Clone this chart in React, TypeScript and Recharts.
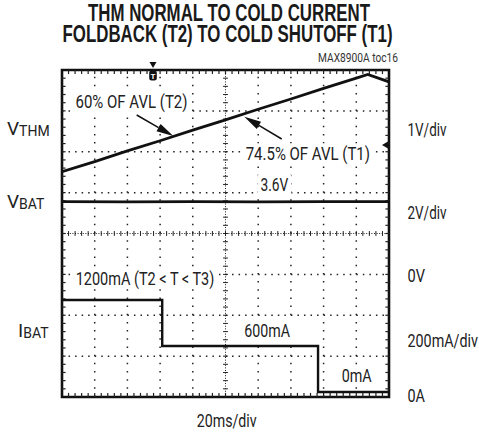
import React from "react";
import { LineChart, Line, XAxis, YAxis, ReferenceLine, ReferenceArea } from "recharts";

// scope shot: 20ms/div, 10 divisions across, 8 divisions tall
const timeMs = [0, 20, 40, 60, 80, 100, 120, 140, 160, 180, 187, 200];
const vthmVolts = [1.01, 1.26, 1.52, 1.77, 2.03, 2.28, 2.54, 2.79, 3.05, 3.3, 3.39, 3.21];

const vbatTimeMs = [0, 40, 80, 120, 160, 200];
const vbatVolts = [3.56, 3.55, 3.56, 3.55, 3.56, 3.56];

const ibatTimeMs = [0, 61.3, 156.6, 200];
const ibatMilliamps = [1200, 600, 0, 0];

const majorXMs = [20, 40, 60, 80, 120, 140, 160, 180];
const majorYDiv = [1, 2, 3, 5, 6, 7];
const minorXMs = Array.from({ length: 49 }, (_, i) => (i + 1) * 4);
const minorYDiv = Array.from({ length: 39 }, (_, i) => Math.round((i + 1) * 2) / 10);

const vthmData = timeMs.map((t, i) => ({ t, v: vthmVolts[i] }));
const vbatData = vbatTimeMs.map((t, i) => ({ t, v: vbatVolts[i] }));
const ibatData = ibatTimeMs.map((t, i) => ({ t, v: ibatMilliamps[i] }));

const LABEL_FONT = 'Roboto, "Liberation Sans", sans-serif';
const TITLE_FONT = '"Liberation Sans", Roboto, sans-serif';
const INK = "#111";
const DOT = "#222";

function Arrow({ x1, y1, x2, y2 }: { x1: number; y1: number; x2: number; y2: number }) {
  const len = Math.hypot(x2 - x1, y2 - y1);
  const ux = (x2 - x1) / len;
  const uy = (y2 - y1) / len;
  const hl = 17;
  const hw = 4.2;
  const bx = x2 - ux * hl;
  const by = y2 - uy * hl;
  const pts = `${x2},${y2} ${bx - uy * hw},${by + ux * hw} ${bx + uy * hw},${by - ux * hw}`;
  return (
    <g>
      <line x1={x1} y1={y1} x2={bx} y2={by} stroke={INK} strokeWidth={1.5} />
      <polygon points={pts} fill={INK} />
    </g>
  );
}

function Label({ x, y, w, text, bg }: { x: number; y: number; w: number; text: string; bg?: boolean }) {
  return (
    <g>
      {bg && <rect x={x - 3} y={y - 16} width={w + 6} height={20} fill="#fff" />}
      <text x={x} y={y} fontSize={19} textLength={w} lengthAdjust="spacingAndGlyphs" fill="#222">
        {text}
      </text>
    </g>
  );
}

export default function App() {
  return (
    <div style={{ position: "relative", width: 479, height: 434 }}>
      {/* the datasheet plot uses the full page, so drop the default body margin */}
      <style>{"body { margin: 0; }"}</style>
      <LineChart width={479} height={434} margin={{ top: 70, right: 90, bottom: 37, left: 62 }}>
        <XAxis dataKey="t" type="number" domain={[0, 200]} hide allowDataOverflow />
        <YAxis yAxisId="div" type="number" domain={[0, 8]} hide allowDataOverflow />
        <YAxis yAxisId="vthm" type="number" domain={[-4.5, 3.5]} hide allowDataOverflow />
        <YAxis yAxisId="vbat" type="number" domain={[-6, 10]} hide allowDataOverflow />
        <YAxis yAxisId="ibat" type="number" domain={[-65, 4200]} hide allowDataOverflow />

        {majorXMs.map((t) => (
          <ReferenceLine key={`gx${t}`} x={t} yAxisId="div" stroke={DOT} strokeWidth={1.5} strokeDasharray="1.5 6.675" />
        ))}
        {majorYDiv.map((d) => (
          <ReferenceLine key={`gy${d}`} y={d} yAxisId="div" stroke={DOT} strokeWidth={1.5} strokeDasharray="1.5 5.04" />
        ))}
        <ReferenceLine x={100} yAxisId="div" stroke={DOT} strokeWidth={1} strokeDasharray="1 1.6" />
        <ReferenceLine y={4} yAxisId="div" stroke={DOT} strokeWidth={1} strokeDasharray="1 1.6" />
        {minorXMs.map((t) => (
          <ReferenceLine key={`cx${t}`} yAxisId="div" segment={[{ x: t, y: 3.94 }, { x: t, y: 4.06 }]} stroke={DOT} strokeWidth={1} />
        ))}
        {minorYDiv.map((d) => (
          <ReferenceLine key={`cy${d}`} yAxisId="div" segment={[{ x: 98.5, y: d }, { x: 101.5, y: d }]} stroke={DOT} strokeWidth={1} />
        ))}
        {minorXMs.map((t) => (
          <ReferenceLine key={`bx${t}`} yAxisId="div" segment={[{ x: t, y: 0 }, { x: t, y: 0.1 }]} stroke={DOT} strokeWidth={1.2} />
        ))}
        {minorXMs.map((t) => (
          <ReferenceLine key={`tx${t}`} yAxisId="div" segment={[{ x: t, y: 8 }, { x: t, y: 7.9 }]} stroke={DOT} strokeWidth={1.2} />
        ))}
        {minorYDiv.map((d) => (
          <ReferenceLine key={`ly${d}`} yAxisId="div" segment={[{ x: 0, y: d }, { x: 2.2, y: d }]} stroke={DOT} strokeWidth={1.2} />
        ))}
        {minorYDiv.map((d) => (
          <ReferenceLine key={`ry${d}`} yAxisId="div" segment={[{ x: 200, y: d }, { x: 197.8, y: d }]} stroke={DOT} strokeWidth={1.2} />
        ))}
        <ReferenceArea x1={0} x2={200} y1={0} y2={8} yAxisId="div" fill="none" stroke={INK} strokeWidth={2.6} ifOverflow="visible" />

        <Line data={vthmData} dataKey="v" yAxisId="vthm" type="linear" stroke={INK} strokeWidth={2.8} dot={false} isAnimationActive={false} />
        <Line data={vbatData} dataKey="v" yAxisId="vbat" type="linear" stroke={INK} strokeWidth={2.8} dot={false} isAnimationActive={false} />
        <Line data={ibatData} dataKey="v" yAxisId="ibat" type="stepAfter" stroke={INK} strokeWidth={2.4} dot={false} isAnimationActive={false} />
      </LineChart>

      {/* annotation layer, in page pixels */}
      <svg width={479} height={434} style={{ position: "absolute", left: 0, top: 0, pointerEvents: "none" }}>
        <g fontFamily={LABEL_FONT}>
          <text x={88} y={20.5} fontFamily={TITLE_FONT} fontSize={23} fontWeight={700} textLength={282} lengthAdjust="spacingAndGlyphs" fill="#1a1a1a">
            THM NORMAL TO COLD CURRENT
          </text>
          <text x={62.5} y={42} fontFamily={TITLE_FONT} fontSize={23} fontWeight={700} textLength={330} lengthAdjust="spacingAndGlyphs" fill="#1a1a1a">
            FOLDBACK (T2) TO COLD SHUTOFF (T1)
          </text>
          <text x={318} y={62} fontSize={12} textLength={80} lengthAdjust="spacingAndGlyphs" fill="#333">
            MAX8900A toc16
          </text>

          {/* trigger marker and channel marker */}
          <polygon points="149.5,62 156.5,62 153,68" fill={INK} />
          <rect x={149.2} y={70.5} width={7.6} height={10} rx={2.5} fill={INK} />
          <text x={153} y={78.8} fontSize={8} fontWeight={700} fill="#fff" textAnchor="middle">
            T
          </text>
          <polygon points="382,145 388,141.5 388,148.5" fill={INK} />

          <Label x={75.5} y={108} w={112} text="60% OF AVL (T2)" bg />
          <Label x={245.7} y={159.5} w={124.3} text="74.5% OF AVL (T1)" bg />
          <Label x={260.5} y={191} w={27.8} text="3.6V" bg />
          <Label x={75.7} y={284.5} w={138.6} text="1200mA (T2 < T < T3)" bg />
          <Label x={244.3} y={336.8} w={45.7} text="600mA" bg />
          <Label x={341.7} y={381.8} w={30} text="0mA" bg />
          <Label x={196.7} y={426.5} w={60} text="20ms/div" />

          <Arrow x1={136.7} y1={115} x2={173.3} y2={136} />
          <Arrow x1={281.7} y1={139} x2={244.3} y2={116.7} />

          <text x={7} y={135} fill="#222" fontSize={19}>
            V<tspan fontSize={14} dy={1}>THM</tspan>
          </text>
          <text x={7} y={208} fill="#222" fontSize={19}>
            V<tspan fontSize={14} dy={1}>BAT</tspan>
          </text>
          <text x={18} y={337} fill="#222" fontSize={19}>
            I<tspan fontSize={14} dy={1}>BAT</tspan>
          </text>

          <Label x={407.5} y={136} w={39} text="1V/div" />
          <Label x={407.5} y={219} w={39} text="2V/div" />
          <Label x={407.5} y={282} w={17.5} text="0V" />
          <Label x={407.5} y={346.7} w={70.5} text="200mA/div" />
          <Label x={407.5} y={401.7} w={17.5} text="0A" />
        </g>
      </svg>
    </div>
  );
}
